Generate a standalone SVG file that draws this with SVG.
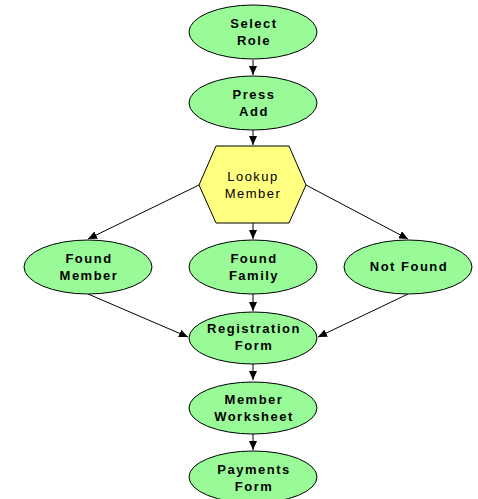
<svg xmlns="http://www.w3.org/2000/svg" width="478" height="499" viewBox="0 0 478 499">
<defs>
<marker id="ah" markerWidth="10" markerHeight="8" refX="9" refY="4" orient="auto" markerUnits="userSpaceOnUse">
<path d="M0,0 L9,4 L0,8 Z" fill="#000"/>
</marker>
<style>
.n{fill:#98FB98;stroke:#000;stroke-width:1}
.h{fill:#FFFF80;stroke:#000;stroke-width:1}
.t{font-family:"Liberation Sans",Arial,sans-serif;font-size:13px;font-weight:bold;letter-spacing:1.5px;text-anchor:middle;fill:#000}
.r{font-family:"Liberation Sans",Arial,sans-serif;font-size:13px;letter-spacing:1.5px;text-anchor:middle;fill:#000}
.c{stroke:#000;stroke-width:1;fill:none;marker-end:url(#ah)}
</style>
</defs>
<g id="connectors">
<line class="c" x1="253" y1="60" x2="253" y2="75"/>
<line class="c" x1="253" y1="130" x2="253" y2="145"/>
<line class="c" x1="199" y1="185" x2="88" y2="239"/>
<line class="c" x1="253" y1="223" x2="253" y2="239"/>
<line class="c" x1="306" y1="185" x2="408" y2="239"/>
<line class="c" x1="88" y1="294" x2="188" y2="337"/>
<line class="c" x1="253" y1="294" x2="253" y2="311"/>
<line class="c" x1="408" y1="294" x2="318" y2="337"/>
<line class="c" x1="253" y1="364" x2="253" y2="380"/>
<line class="c" x1="253" y1="434" x2="253" y2="450"/>
</g>
<g id="select-role"><ellipse class="n" cx="253" cy="32" rx="64" ry="27"/><text class="t" x="254" y="28">Select</text><text class="t" x="254" y="45">Role</text></g>
<g id="press-add"><ellipse class="n" cx="253" cy="103" rx="64" ry="27"/><text class="t" x="254" y="99">Press</text><text class="t" x="254" y="116">Add</text></g>
<g id="lookup-member"><polygon class="h" points="216,146 289,146 306,185 289,223 216,223 199,185"/><text class="r" x="253" y="181">Lookup</text><text class="r" x="253" y="198">Member</text></g>
<g id="found-member"><ellipse class="n" cx="88" cy="267" rx="64" ry="27"/><text class="t" x="89" y="263">Found</text><text class="t" x="89" y="280">Member</text></g>
<g id="found-family"><ellipse class="n" cx="253" cy="267" rx="64" ry="27"/><text class="t" x="254" y="263">Found</text><text class="t" x="254" y="280">Family</text></g>
<g id="not-found"><ellipse class="n" cx="408" cy="267" rx="64" ry="27"/><text class="t" x="409" y="271">Not Found</text></g>
<g id="registration-form"><ellipse class="n" cx="253" cy="338" rx="64" ry="26"/><text class="t" x="254" y="333">Registration</text><text class="t" x="254" y="350">Form</text></g>
<g id="member-worksheet"><ellipse class="n" cx="253" cy="408" rx="64" ry="26"/><text class="t" x="254" y="404">Member</text><text class="t" x="254" y="421">Worksheet</text></g>
<g id="payments-form"><ellipse class="n" cx="253" cy="477" rx="64" ry="26"/><text class="t" x="254" y="474">Payments</text><text class="t" x="254" y="491">Form</text></g>
</svg>
